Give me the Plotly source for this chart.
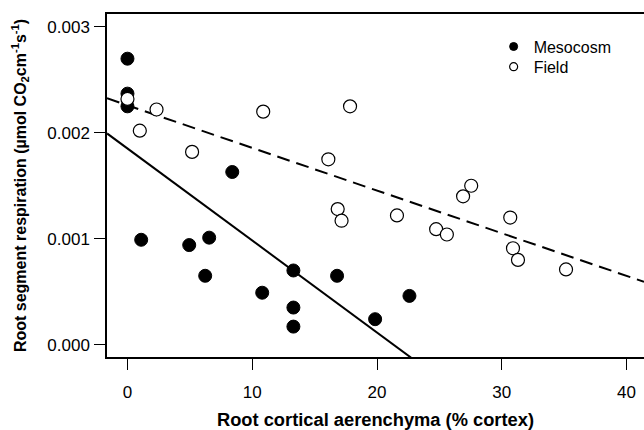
import plotly.graph_objects as go

# Mesocosm (filled)
meso_x = [0, 0, 0, 8.4, 1.1, 4.95, 6.55, 6.23, 10.8, 13.3, 13.3, 13.3, 16.8, 19.85, 22.6]
meso_y = [0.00270, 0.00237, 0.00225, 0.00163, 0.00099, 0.00094, 0.00101, 0.00065,
          0.00049, 0.00070, 0.00035, 0.00017, 0.00065, 0.00024, 0.00046]

# Field (open)
field_x = [0, 2.33, 0.99, 5.18, 10.88, 16.1, 17.84, 16.85, 17.16, 21.6, 27.55, 26.9,
           24.74, 25.6, 30.68, 30.9, 31.3, 35.15]
field_y = [0.00232, 0.00222, 0.00202, 0.00182, 0.00220, 0.00175, 0.00225, 0.00128,
           0.00117, 0.00122, 0.00150, 0.00140, 0.00109, 0.00104, 0.00120, 0.00091,
           0.00080, 0.00071]

# regression lines (intercept, slope)
meso_fit = (0.001852, -8.69e-5)
field_fit = (0.00226, -4.027e-5)

x_range = [-1.64, 41.4]
y_range = [-0.000117, 0.003122]
x_ticks = [0, 10, 20, 30, 40]
y_ticks = [0.000, 0.001, 0.002, 0.003]

FONT = "Liberation Sans, Arial, sans-serif"

fig = go.Figure()

def fit_line(fit):
    xs = list(x_range)
    ys = [fit[0] + fit[1] * v for v in xs]
    return xs, ys

fx, fy = fit_line(meso_fit)
fig.add_trace(go.Scatter(x=fx, y=fy, mode="lines", line=dict(color="black", width=2),
                         showlegend=False, hoverinfo="skip"))
fx, fy = fit_line(field_fit)
fig.add_trace(go.Scatter(x=fx, y=fy, mode="lines",
                         line=dict(color="black", width=2, dash="13px,7px"),
                         showlegend=False, hoverinfo="skip"))

fig.add_trace(go.Scatter(x=meso_x, y=meso_y, mode="markers", name="Mesocosm",
                         marker=dict(size=13, color="black", line=dict(color="black", width=1)),
                         showlegend=False))
fig.add_trace(go.Scatter(x=field_x, y=field_y, mode="markers", name="Field",
                         marker=dict(size=13, color="white", line=dict(color="black", width=1.2)),
                         showlegend=False))

# legend entries with small symbols (one legend each, to control spacing)
fig.add_trace(go.Scatter(x=[None], y=[None], mode="markers", name="Mesocosm",
                         marker=dict(size=8, color="black", line=dict(color="black", width=1)),
                         legend="legend"))
fig.add_trace(go.Scatter(x=[None], y=[None], mode="markers", name="Field",
                         marker=dict(size=8, color="white", line=dict(color="black", width=1.2)),
                         legend="legend2"))

leg_common = dict(xanchor="left", yanchor="middle", bgcolor="rgba(0,0,0,0)",
                  font=dict(size=16), borderwidth=0)

fig.update_layout(
    width=644, height=430,
    margin=dict(l=107, r=0, t=14, b=73),
    paper_bgcolor="white", plot_bgcolor="white",
    font=dict(family=FONT, size=17, color="black"),
    showlegend=True,
    legend=dict(x=0.72, y=0.905, **leg_common),
    legend2=dict(x=0.72, y=0.846, **leg_common),
)

fig.update_xaxes(
    range=x_range, tickvals=x_ticks, ticktext=[str(v) for v in x_ticks],
    showgrid=False, zeroline=False, showline=True, linecolor="black", linewidth=1.5,
    mirror=True, ticks="outside", ticklen=11, tickwidth=1, tickcolor="black",
    ticklabelstandoff=8,
    title=dict(text="Root cortical aerenchyma (% cortex)", standoff=17,
               font=dict(size=18.3, weight="bold")),
    automargin=False,
)
fig.update_yaxes(
    range=y_range, tickvals=y_ticks, ticktext=[f"{v:.3f}" for v in y_ticks],
    showgrid=False, zeroline=False, showline=True, linecolor="black", linewidth=1.5,
    mirror=False, ticks="outside", ticklen=11, tickwidth=1, tickcolor="black",
    ticklabelstandoff=1,
    title=dict(text="Root segment respiration (µmol CO<sub>2</sub>cm<sup>-1</sup>s<sup>-1</sup>)",
               standoff=17, font=dict(size=16, weight="bold")),
    automargin=False,
)

fig.write_html(
    "out.html",
    config={"displayModeBar": False},
    post_script="document.body.style.margin='0';document.body.style.padding='0';"
                "document.documentElement.style.overflow='hidden';",
)
